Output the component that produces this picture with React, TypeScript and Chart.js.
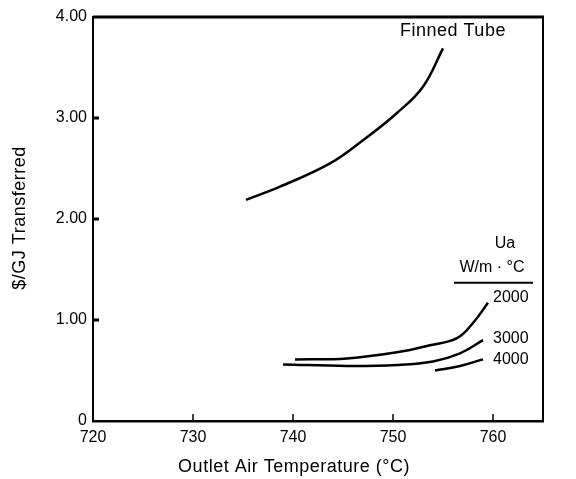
import React, { useEffect, useRef } from "react";
import { Chart, registerables } from "chart.js";

Chart.register(...registerables);

// ---- data ----
const finnedX = [735.3, 738.7, 743.7, 747.0, 750.4, 753.0, 755.0];
const finnedY = [2.19, 2.32, 2.55, 2.78, 3.05, 3.31, 3.69];
const ua2000X = [740.2, 745.4, 750.4, 753.7, 756.4, 758.0, 759.5];
const ua2000Y = [0.61, 0.62, 0.68, 0.75, 0.82, 0.97, 1.17];
const ua3000X = [739.0, 745.4, 750.4, 754.0, 756.7, 759.0];
const ua3000Y = [0.56, 0.545, 0.555, 0.59, 0.67, 0.8];
const ua4000X = [754.2, 756.7, 759.0];
const ua4000Y = [0.5, 0.545, 0.61];

const xTicks = [720, 730, 740, 750, 760];
const yTicks = [0, 1, 2, 3, 4];
const yTickLabels = ["0", "1.00", "2.00", "3.00", "4.00"];
const seriesLabels = ["Finned Tube", "2000", "3000", "4000"];
const legendTitle = ["Ua", "W/m · °C"];
const xTitle = "Outlet Air Temperature (°C)";
const yTitle = "$/GJ Transferred";

const FONT = "'Liberation Sans', Arial, Helvetica, sans-serif";

const toPts = (xs: number[], ys: number[]) => xs.map((x, i) => ({ x, y: ys[i] }));

const decorPlugin = {
  id: "decor",
  afterDraw(chart: any) {
    const { ctx, chartArea: a, scales } = chart;
    const xs = scales.x;
    const ys = scales.y;
    ctx.save();
    ctx.strokeStyle = "#000";
    ctx.fillStyle = "#000";
    ctx.lineCap = "butt";
    // frame: top & right
    ctx.lineWidth = 3;
    ctx.beginPath();
    ctx.moveTo(a.left, a.top);
    ctx.lineTo(a.right + 1, a.top);
    ctx.stroke();
    ctx.lineWidth = 2;
    ctx.beginPath();
    ctx.moveTo(a.right, a.top);
    ctx.lineTo(a.right, a.bottom);
    ctx.stroke();
    // inward ticks on y axis
    ctx.lineWidth = 3;
    yTicks.forEach((v) => {
      if (v === 0 || v === 4) return;
      const py = ys.getPixelForValue(v);
      ctx.beginPath();
      ctx.moveTo(a.left, py);
      ctx.lineTo(a.left + 6, py);
      ctx.stroke();
    });
    // inward ticks on x axis
    ctx.lineWidth = 1.5;
    xTicks.forEach((v) => {
      if (v === 720) return;
      const px = xs.getPixelForValue(v);
      ctx.beginPath();
      ctx.moveTo(px, a.bottom);
      ctx.lineTo(px, a.bottom - 7);
      ctx.stroke();
    });
    // annotations
    ctx.textBaseline = "middle";
    ctx.textAlign = "left";
    ctx.font = `18px ${FONT}`;
    (ctx as any).letterSpacing = "0.5px";
    ctx.fillText(seriesLabels[0], xs.getPixelForValue(750.7), ys.getPixelForValue(3.86));
    ctx.font = `16px ${FONT}`;
    (ctx as any).letterSpacing = "0px";
    ctx.fillText(seriesLabels[1], xs.getPixelForValue(760.0), ys.getPixelForValue(1.22));
    ctx.fillText(seriesLabels[2], xs.getPixelForValue(760.0), ys.getPixelForValue(0.82));
    ctx.fillText(seriesLabels[3], xs.getPixelForValue(760.0), ys.getPixelForValue(0.61));
    ctx.textAlign = "center";
    ctx.fillText(legendTitle[0], xs.getPixelForValue(761.2), ys.getPixelForValue(1.76));
    ctx.fillText(legendTitle[1], xs.getPixelForValue(759.9), ys.getPixelForValue(1.52));
    ctx.lineWidth = 2;
    ctx.beginPath();
    ctx.moveTo(xs.getPixelForValue(756.1), ys.getPixelForValue(1.37));
    ctx.lineTo(xs.getPixelForValue(764.0), ys.getPixelForValue(1.37));
    ctx.stroke();
    // axis titles
    ctx.font = `18px ${FONT}`;
    (ctx as any).letterSpacing = "0.5px";
    ctx.textAlign = "center";
    ctx.fillText(xTitle, 294, 467);
    ctx.translate(20, 218);
    ctx.rotate(-Math.PI / 2);
    ctx.fillText(yTitle, 0, 0);
    ctx.restore();
  },
};

export default function App() {
  const ref = useRef<HTMLCanvasElement | null>(null);
  useEffect(() => {
    if (!ref.current) return;
    const line = (xs: number[], ys: number[], label: string) => ({
      label,
      data: toPts(xs, ys),
      borderColor: "#000",
      backgroundColor: "#000",
      borderWidth: 2.5,
      pointRadius: 0,
      tension: 0.4,
      fill: false,
    });
    const chart = new Chart(ref.current, {
      type: "line",
      data: {
        datasets: [
          line(finnedX, finnedY, seriesLabels[0]),
          line(ua2000X, ua2000Y, seriesLabels[1]),
          line(ua3000X, ua3000Y, seriesLabels[2]),
          line(ua4000X, ua4000Y, seriesLabels[3]),
        ],
      },
      options: {
        animation: false,
        responsive: true,
        maintainAspectRatio: false,
        layout: { padding: { left: 0, top: 17, right: 33, bottom: 0 } },
        plugins: { legend: { display: false }, tooltip: { enabled: false } },
        scales: {
          x: {
            type: "linear",
            min: 720,
            max: 765,
            afterFit: (s: any) => {
              s.height = 58;
            },
            afterBuildTicks: (s: any) => {
              s.ticks = xTicks.map((v) => ({ value: v }));
            },
            grid: { display: false, drawTicks: false },
            border: { display: true, color: "#000", width: 2.5 },
            ticks: {
              color: "#000",
              font: { family: FONT, size: 16 },
              padding: 7,
              maxRotation: 0,
              callback: (v: any) => String(v),
            },
          },
          y: {
            type: "linear",
            min: 0,
            max: 4,
            afterFit: (s: any) => {
              s.width = 93;
            },
            afterBuildTicks: (s: any) => {
              s.ticks = yTicks.map((v) => ({ value: v }));
            },
            grid: { display: false, drawTicks: false },
            border: { display: true, color: "#000", width: 2 },
            ticks: {
              color: "#000",
              font: { family: FONT, size: 16 },
              padding: 6,
              callback: (v: any) => yTickLabels[yTicks.indexOf(Number(v))] ?? "",
            },
          },
        },
      },
      plugins: [decorPlugin],
    });
    return () => chart.destroy();
  }, []);
  return (
    <div style={{ position: "absolute", left: 0, top: 0, width: 576, height: 479, background: "#fff" }}>
      <canvas ref={ref} />
    </div>
  );
}
